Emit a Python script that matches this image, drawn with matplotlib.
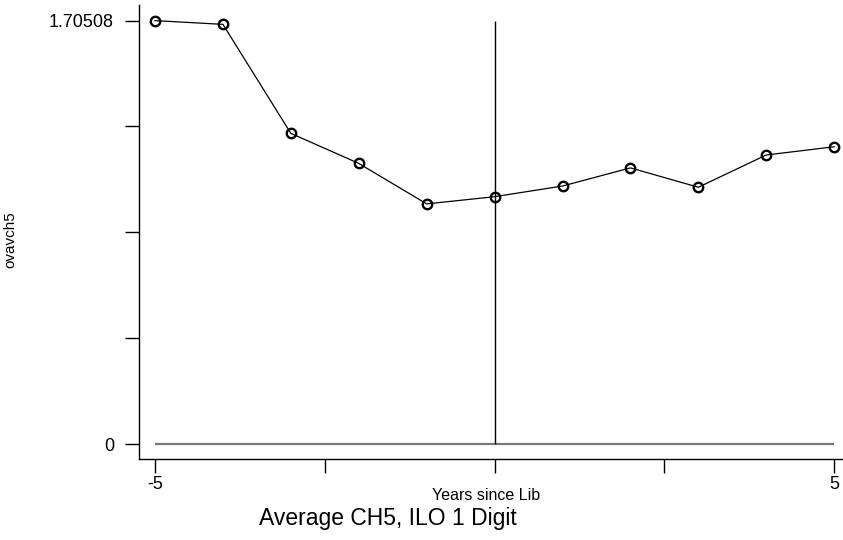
import matplotlib
matplotlib.use("Agg")
import matplotlib.pyplot as plt

# data
years = [-5, -4, -3, -2, -1, 0, 1, 2, 3, 4, 5]
ovavch5 = [1.70508, 1.690, 1.251, 1.130, 0.967, 0.996, 1.039, 1.112, 1.034, 1.164, 1.197]
ymax = 1.70508
yticks = [0, ymax / 4, ymax / 2, 3 * ymax / 4, ymax]
ytick_labels = ["0", "", "", "", "1.70508"]
xticks = [-5, -2.5, 0, 2.5, 5]
xtick_labels = ["-5", "", "", "", "5"]

plt.rcParams['font.family'] = ['Liberation Sans', 'DejaVu Sans']

fig = plt.figure(figsize=(8.43, 5.40), dpi=100)
ax = fig.add_axes([139 / 843, 1 - 459 / 540, 1 - 139 / 843, 454 / 540])

#reference lines: y = 0 and x = 0
ax.hlines(0, years[0], years[-1], color="#777777", lw=1.6)
ax.vlines(0, 0, ymax, color="black", lw=1.0)

ax.plot(years, ovavch5, "-", color="black", lw=0.9)
ax.plot(years, ovavch5, "o", mfc="none", mec="black", mew=1.7, ms=6.8)

ax.set_xlim(-5.236, 5.13)
ax.set_ylim(-0.0604, 1.768)
ax.set_yticks(yticks)
ax.set_yticklabels(ytick_labels)
ax.set_xticks(xticks)
ax.set_xticklabels(xtick_labels)
ax.tick_params(axis="both", direction="out", length=10, width=1.0,
               labelsize=13, color="black")
ax.tick_params(axis="y", pad=8)
ax.tick_params(axis="x", pad=2)

ax.spines["top"].set_visible(False)
ax.spines["right"].set_visible(False)
ax.spines["left"].set_linewidth(1.0)
ax.spines["bottom"].set_linewidth(1.0)

fig.text(10 / 843, 1 - 240 / 540, "ovavch5", rotation=90,
         ha="center", va="center", fontsize=11)
fig.text(486 / 843, 1 - 496 / 540, "Years since Lib",
         ha="center", va="center", fontsize=11.5)
fig.text(388 / 843, 1 - 518 / 540, "Average CH5, ILO 1 Digit",
         ha="center", va="center", fontsize=16.5)

fig.savefig("out.png", dpi=100)
